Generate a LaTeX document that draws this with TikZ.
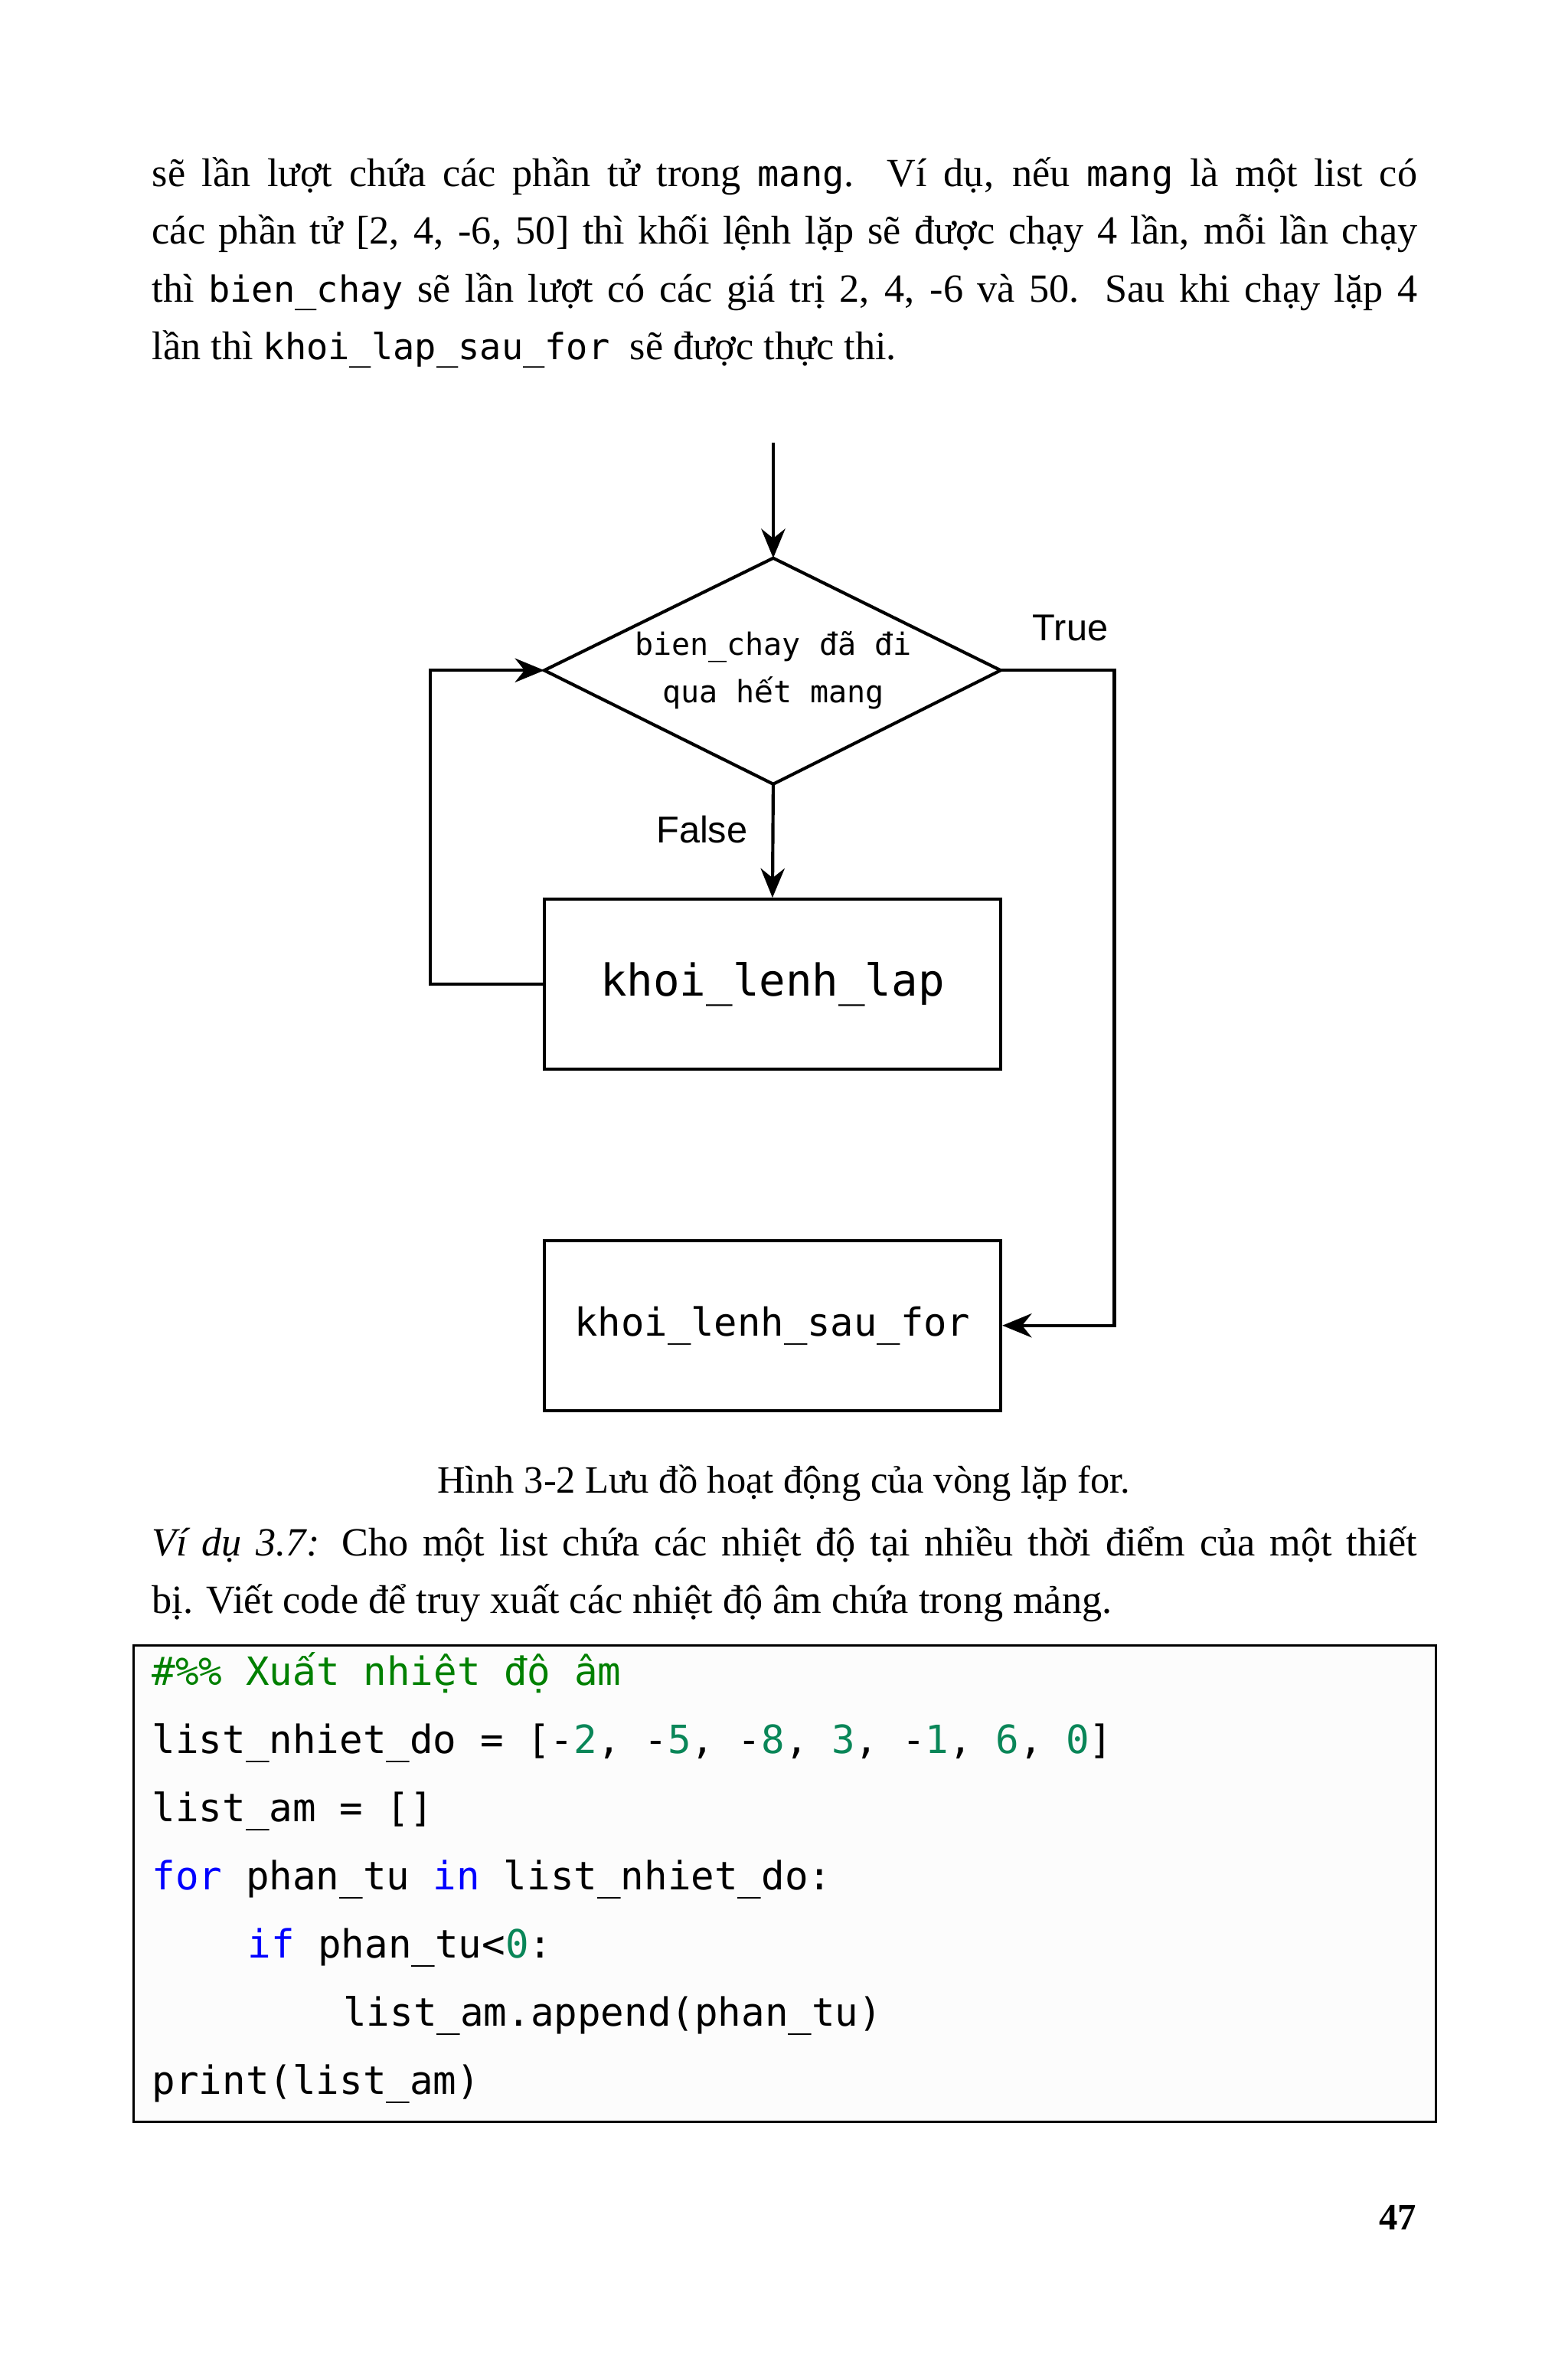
\documentclass[tikz,border=0pt]{standalone}
\usepackage{fontspec}
\setmainfont{Liberation Serif}
\newfontfamily\monof{DejaVu Sans Mono}
\newfontfamily\dvs{DejaVu Sans}
\newfontfamily\sansf{Liberation Sans}
\usetikzlibrary{arrows.meta}
\definecolor{cgreen}{RGB}{0,128,0}
\definecolor{cblue}{RGB}{0,0,255}
\definecolor{cnum}{RGB}{9,134,88}
\newcommand{\mm}[1]{{\monof\fontsize{13.5pt}{16pt}\selectfont #1}}
\newcommand{\vn}[1]{{\dvs #1}}
\tikzset{
 body/.style={anchor=base west,inner sep=0,font=\fontsize{15pt}{18pt}\selectfont},
 code/.style={anchor=base west,inner sep=0,font=\monof\fontsize{14.6pt}{17pt}\selectfont},
 fbox/.style={draw,line width=1.2pt,minimum width=6.02cm,minimum height=2.24cm,inner sep=0},
 flow/.style={line width=1.2pt},
 arr/.style={flow,-{Stealth[length=11pt,width=9pt]}},
 lab/.style={font=\sansf\fontsize{14pt}{16pt}\selectfont,inner sep=0}
}
\begin{document}
\begin{tikzpicture}[x=0.01cm,y=-0.01cm]
\useasboundingbox (0,0) rectangle (2068,3136);
\fill[white] (0,0) rectangle (2068,3136);
% paragraph
\node[body] (p1) at (200,246) {\makebox[16.68cm][s]{sẽ lần lượt chứa các phần tử trong \mm{mang}. Ví dụ, nếu \mm{mang} là một list có}};
\node[body] (p2) at (200,322) {\makebox[16.68cm][s]{các phần tử [2, 4, -6, 50] thì khối lệnh lặp sẽ được chạy 4 lần, mỗi lần chạy}};
\node[body] (p3) at (200,398) {\makebox[16.68cm][s]{thì \mm{bien\_chay} sẽ lần lượt có các giá trị 2, 4, -6 và 50. Sau khi chạy lặp 4}};
\node[body] (p4) at (200,474) {lần thì \mm{khoi\_lap\_sau\_for} \ sẽ được thực thi.};
% flowchart
\coordinate (start) at (1020,584);
\coordinate (dT) at (1020,736);
\coordinate (dB) at (1020,1034);
\coordinate (dL) at (718,884);
\coordinate (dR) at (1320,884);
\draw[flow] (dT) -- (dR) -- (dB) -- (dL) -- cycle;
\node[inner sep=0,align=center,font=\monof\fontsize{11.5pt}{18pt}\selectfont] (dtext) at (1020,884) {bien\_chay đã đi\\qua h\vn{ế}t mang};
\draw[arr] (start) -- (dT);
\node[fbox,font=\monof\fontsize{16.5pt}{18pt}\selectfont] (b1) at (1019,1298) {khoi\_lenh\_lap};
\node[fbox,font=\monof\fontsize{14.5pt}{18pt}\selectfont] (b2) at (1019,1748) {khoi\_lenh\_sau\_for};
\draw[arr] (dB) -- (b1.north);
\draw[arr] (b1.west) -- (568,1298) -- (568,884) -- (dL);
\draw[arr] (dR) -- (1470,884) -- (1470,1748) -- (b2.east);
\node[lab] (t) at (1412,828) {True};
\node[lab] (f) at (926,1094) {False};
% caption
\node[inner sep=0,font=\fontsize{14.5pt}{18pt}\selectfont] (cap) at (1034,1956) {Hình 3-2 Lưu đồ hoạt động của vòng lặp for.};
\node[body] (v1) at (200,2052) {\makebox[16.68cm][s]{\textit{Ví dụ 3.7:} Cho một list chứa các nhiệt độ tại nhiều thời điểm của một thiết}};
\node[body] (v2) at (200,2128) {bị. Viết code để truy xuất các nhiệt độ âm chứa trong mảng.};
% code box
\draw[line width=1pt,fill=gray!2] (176,2170) rectangle (1894,2798);
\node[code,text=cgreen] (c1) at (200,2222) {\#\%\% Xu\vn{ấ}t nhiệt độ âm};
\node[code] (c2) at (200,2312) {list\_nhiet\_do = [-\textcolor{cnum}{2}, -\textcolor{cnum}{5}, -\textcolor{cnum}{8}, \textcolor{cnum}{3}, -\textcolor{cnum}{1}, \textcolor{cnum}{6}, \textcolor{cnum}{0}]};
\node[code] (c3) at (200,2402) {list\_am = []};
\node[code] (c4) at (200,2492) {\textcolor{cblue}{for} phan\_tu \textcolor{cblue}{in} list\_nhiet\_do:};
\node[code] (c5) at (326,2582) {\textcolor{cblue}{if} phan\_tu<\textcolor{cnum}{0}:};
\node[code] (c6) at (452,2672) {list\_am.append(phan\_tu)};
\node[code] (c7) at (200,2762) {print(list\_am)};
\node[inner sep=0,font=\bfseries\fontsize{14pt}{16pt}\selectfont] (pg) at (1844,2924) {47};
\end{tikzpicture}
\end{document}
